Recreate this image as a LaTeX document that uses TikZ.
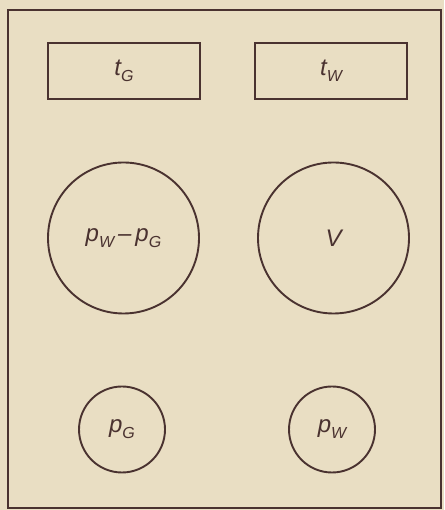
\documentclass[tikz,border=0pt]{standalone}
\usepackage{fontspec}
\setmainfont{Liberation Sans}
\definecolor{paper}{HTML}{E9DEC3}
\definecolor{ink}{HTML}{4A3230}
\tikzset{
  box/.style={draw=ink, line width=1.9pt, minimum width=152pt, minimum height=56pt, inner sep=0pt},
  bigdial/.style={draw=ink, circle, line width=1.9pt, minimum size=151pt, inner sep=0pt},
  smalldial/.style={draw=ink, circle, line width=1.9pt, minimum size=86pt, inner sep=0pt},
  lab/.style={text=ink, font=\fontsize{24}{26}\selectfont\itshape}
}
\newcommand{\sbx}[1]{\raisebox{-6pt}{\fontsize{16}{17}\selectfont #1}}
\begin{document}
\begin{tikzpicture}[x=1pt,y=1pt]
\fill[paper] (0,0) rectangle (444,510);
\useasboundingbox (0,0) rectangle (444,510);
\node[draw=ink, line width=2.2pt, minimum width=433pt, minimum height=498pt, inner sep=0pt] (frame) at (224.5,251) {};
\node[box] (tg) at (124,439) {};
\node[box] (tw) at (331,439) {};
\node[lab] at (tg) {t\sbx{G}};
\node[lab] at (tw) {t\sbx{W}};
\node[bigdial] (dp) at (123.5,272) {};
\node[bigdial] (v) at (333.5,272) {};
\node[lab] at (dp) {p\sbx{W}\,--\,p\sbx{G}};
\node[lab] at (v) {V};
\node[smalldial] (pg) at (122,80.5) {};
\node[smalldial] (pw) at (332,80.5) {};
\node[lab] at (pg) {p\sbx{G}};
\node[lab] at (pw) {p\sbx{W}};
\end{tikzpicture}
\end{document}
